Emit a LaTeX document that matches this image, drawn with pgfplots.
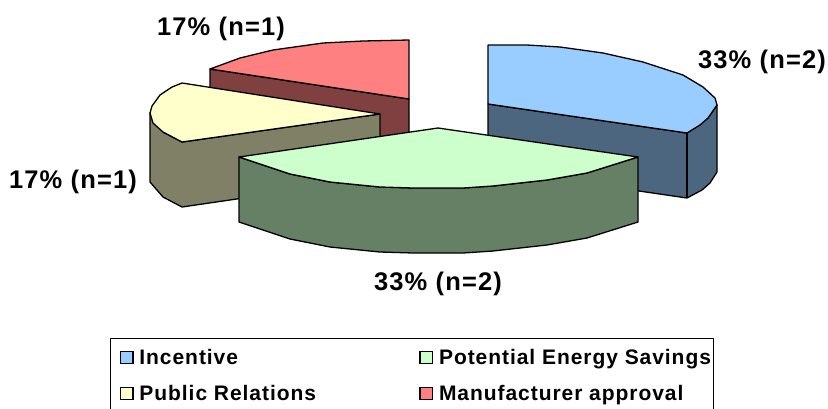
\documentclass[border=0pt]{standalone}
\usepackage{fontspec}
\setmainfont{Liberation Sans}[LetterSpace=4.5]
\usepackage{pgfplots}
\pgfplotsset{compat=1.18}
\definecolor{blueTop}{HTML}{99CCFF}
\definecolor{blueSide}{HTML}{4D6680}
\definecolor{greenTop}{HTML}{CCFFCC}
\definecolor{greenSide}{HTML}{668066}
\definecolor{yellowTop}{HTML}{FFFFCC}
\definecolor{yellowSide}{HTML}{808066}
\definecolor{redTop}{HTML}{FF8080}
\definecolor{redSide}{HTML}{804040}
\pgfplotsset{
  slice/.style={draw=black, line width=1.3pt, line join=round, mark=none, forget plot},
  swatch/.style={legend image code/.code={
      \path[draw=none, fill=none] (0pt,0pt) -- (26pt,0pt);
      \draw[fill=#1, draw=black, line width=1.2pt] (9pt,-6pt) rectangle (21.5pt,6pt);}},
}
\begin{document}
\begin{tikzpicture}
\path[use as bounding box] (0,0) rectangle (828pt,408pt);
\begin{axis}[
  anchor=south west, at={(0,0)},
  width=828pt, height=408pt, scale only axis,
  xmin=0, xmax=828, ymin=0, ymax=408, y dir=reverse,
  hide axis,
  legend columns=2,
  legend cell align=left,
  legend style={
    at={(0.1328,0.1716)}, anchor=north west,
    draw=black, line width=1pt, fill=white,
    inner xsep=1pt, inner ysep=9pt,
    font=\bfseries\fontsize{21}{24}\selectfont,
    row sep=15pt,
    /tikz/every even column/.style={column sep=93pt},
  },
]
\addlegendimage{swatch=blueTop}\addlegendentry{Incentive}
\addlegendimage{swatch=greenTop}\addlegendentry{Potential Energy Savings}
\addlegendimage{swatch=yellowTop}\addlegendentry{Public Relations}
\addlegendimage{swatch=redTop}\addlegendentry{Manufacturer approval}

% Manufacturer approval (17%)
\addplot[slice, fill=redSide] coordinates {(210,69) (409,99) (409,164) (210,134)} --cycle;
\addplot[slice, fill=redTop] coordinates {(409,40) (409,99) (210,69) (240,58) (273,50) (323,43) (363,41)} --cycle;

% Public Relations (17%)
\addplot[slice, fill=yellowSide] coordinates {(182,142) (380,114) (380,178) (182,207) (163,197) (150,182) (150,113) (163,132)} --cycle;
\addplot[slice, fill=yellowTop] coordinates {(380,114) (182,142) (163,132) (153,123) (150,113) (152,106) (160,95) (172,87) (182,83)} --cycle;

% Incentive (33%)
\addplot[slice, fill=blueSide] coordinates {(488,104) (687,133) (708,118) (717,105) (717,172) (710,183) (702,190) (687,198) (488,169)} --cycle;
\addplot[slice, fill=blueTop] coordinates {(488,45) (527,45) (560,47) (603,53) (643,62) (683,75) (703,87) (715,98) (717,105) (708,118) (700,125) (687,133) (488,104)} --cycle;
\addplot[slice] coordinates {(687,133) (687,198)};

% Potential Energy Savings (33%)
\addplot[slice, fill=greenSide] coordinates {(239,157) (290,174) (330,182) (380,187) (413,188) (463,188) (493,186) (547,180) (587,173) (638,157) (638,222) (587,238) (547,245) (493,251) (463,253) (413,253) (380,252) (330,247) (290,239) (239,222)} --cycle;
\addplot[slice, fill=greenTop] coordinates {(438,128) (638,157) (587,173) (547,180) (493,186) (463,188) (413,188) (380,187) (330,182) (290,174) (239,157)} --cycle;

% Share labels
\begin{scope}[every node/.style={font=\bfseries\fontsize{25.5}{28}\selectfont, text=black, inner sep=0pt}]
\node at (axis cs:762,62) {33\% (n=2)};
\node at (axis cs:438,284) {33\% (n=2)};
\node at (axis cs:221,29) {17\% (n=1)};
\node at (axis cs:73,182) {17\% (n=1)};
\end{scope}
\end{axis}
\end{tikzpicture}
\end{document}
